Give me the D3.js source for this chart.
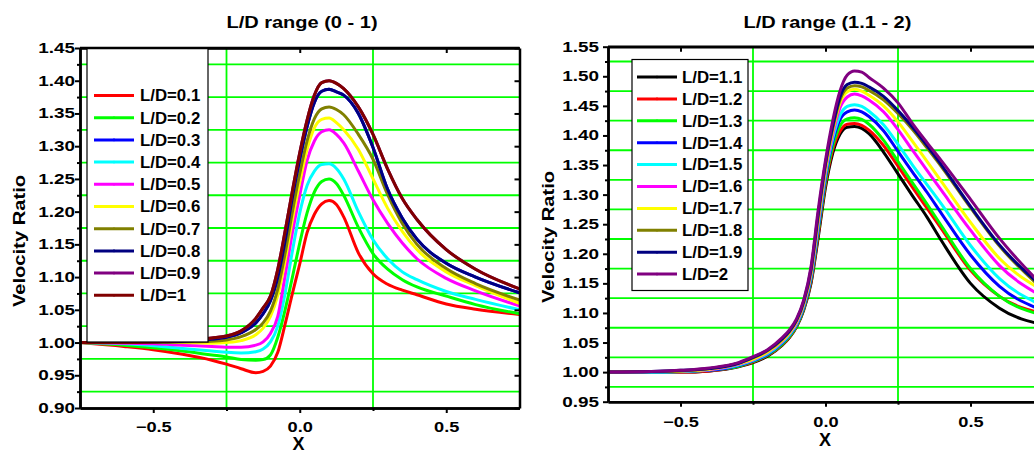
<!DOCTYPE html>
<html>
<head>
<meta charset="utf-8">
<script src="https://cdn.jsdelivr.net/npm/d3@7/dist/d3.min.js"></script>
<style>
  body { margin: 0; background: #fff; }
  text { font-family: "Liberation Sans", Arial, sans-serif; font-weight: bold; fill: #000; }
</style>
</head>
<body>
<svg id="chart"></svg>
<script>
// Canvas size
const width = 1034;
const height = 454;

// Shared x positions of the sampled points (X)
const xs = [-0.75, -0.6, -0.5, -0.4, -0.3, -0.25, -0.2, -0.15, -0.125, -0.1, -0.075, -0.05, -0.025, 0,
  0.025, 0.05, 0.075, 0.1, 0.125, 0.15, 0.2, 0.25, 0.3, 0.35, 0.4, 0.5, 0.6, 0.75];

// Tick labels
const xTicks = [-0.5, 0, 0.5];
const leftYTicks = [0.90, 0.95, 1.00, 1.05, 1.10, 1.15, 1.20, 1.25, 1.30, 1.35, 1.40, 1.45];
const rightYTicks = [0.95, 1.00, 1.05, 1.10, 1.15, 1.20, 1.25, 1.30, 1.35, 1.40, 1.45, 1.50, 1.55];

// Left chart: L/D range (0 - 1)
const leftNames = ['L/D=0.1', 'L/D=0.2', 'L/D=0.3', 'L/D=0.4', 'L/D=0.5', 'L/D=0.6', 'L/D=0.7', 'L/D=0.8', 'L/D=0.9', 'L/D=1'];
const ld01 = [1.000, 0.994, 0.989, 0.982, 0.973, 0.967, 0.960, 0.954, 0.956, 0.964, 0.985, 1.028, 1.075, 1.120,
  1.168, 1.196, 1.212, 1.217, 1.211, 1.192, 1.137, 1.105, 1.089, 1.080, 1.073, 1.059, 1.051, 1.043];
const ld02 = [1.000, 0.996, 0.992, 0.987, 0.981, 0.978, 0.974, 0.973, 0.974, 0.981, 1.008, 1.050, 1.100, 1.152,
  1.198, 1.230, 1.246, 1.250, 1.243, 1.225, 1.176, 1.136, 1.112, 1.096, 1.085, 1.071, 1.058, 1.044];
const ld03 = [1.000, 1.000, 1.001, 1.002, 1.005, 1.008, 1.015, 1.030, 1.044, 1.064, 1.100, 1.155, 1.222, 1.280,
  1.330, 1.367, 1.384, 1.387, 1.383, 1.378, 1.350, 1.298, 1.234, 1.190, 1.158, 1.121, 1.100, 1.076];
const ld04 = [1.000, 0.998, 0.995, 0.991, 0.987, 0.985, 0.984, 0.986, 0.990, 1.001, 1.025, 1.075, 1.140, 1.198,
  1.240, 1.262, 1.272, 1.273, 1.266, 1.250, 1.200, 1.157, 1.128, 1.108, 1.096, 1.078, 1.066, 1.050];
const ld05 = [1.000, 0.999, 0.998, 0.996, 0.994, 0.993, 0.993, 0.996, 1.001, 1.014, 1.040, 1.102, 1.168, 1.225,
  1.278, 1.308, 1.322, 1.325, 1.318, 1.305, 1.262, 1.218, 1.182, 1.152, 1.128, 1.098, 1.079, 1.056];
const ld06 = [1.000, 1.000, 1.000, 1.000, 0.999, 1.000, 1.003, 1.012, 1.022, 1.040, 1.072, 1.125, 1.188, 1.245,
  1.295, 1.328, 1.341, 1.343, 1.336, 1.325, 1.295, 1.250, 1.205, 1.170, 1.142, 1.108, 1.087, 1.060];
const ld07 = [1.000, 1.000, 1.000, 1.001, 1.002, 1.004, 1.009, 1.020, 1.030, 1.048, 1.082, 1.136, 1.200, 1.258,
  1.308, 1.342, 1.357, 1.360, 1.356, 1.348, 1.318, 1.280, 1.226, 1.182, 1.150, 1.113, 1.090, 1.065];
const ld08 = [1.000, 1.000, 1.001, 1.002, 1.005, 1.008, 1.015, 1.030, 1.044, 1.064, 1.100, 1.155, 1.222, 1.280,
  1.330, 1.367, 1.384, 1.387, 1.383, 1.378, 1.350, 1.298, 1.234, 1.190, 1.158, 1.121, 1.100, 1.076];
const ld09 = [1.000, 1.000, 1.001, 1.003, 1.007, 1.010, 1.018, 1.037, 1.053, 1.071, 1.112, 1.170, 1.232, 1.290,
  1.340, 1.378, 1.397, 1.400, 1.396, 1.388, 1.360, 1.318, 1.265, 1.220, 1.188, 1.142, 1.112, 1.082];
const ld10 = [1.000, 1.000, 1.001, 1.003, 1.007, 1.010, 1.018, 1.037, 1.053, 1.071, 1.112, 1.170, 1.232, 1.290,
  1.340, 1.378, 1.397, 1.400, 1.396, 1.388, 1.360, 1.318, 1.265, 1.220, 1.188, 1.142, 1.112, 1.082];
const leftColors = ['#ff0000', '#00ff00', '#0000ff', '#00ffff', '#ff00ff', '#ffff00', '#808000', '#000080', '#800080', '#800000'];

// Right chart: L/D range (1.1 - 2)
const rightNames = ['L/D=1.1', 'L/D=1.2', 'L/D=1.3', 'L/D=1.4', 'L/D=1.5', 'L/D=1.6', 'L/D=1.7', 'L/D=1.8', 'L/D=1.9', 'L/D=2'];
const ld11 = [1.000, 1.000, 1.000, 1.002, 1.009, 1.016, 1.027, 1.045, 1.058, 1.076, 1.105, 1.150, 1.228, 1.312,
  1.370, 1.402, 1.414, 1.415, 1.412, 1.403, 1.372, 1.335, 1.298, 1.262, 1.222, 1.150, 1.108, 1.080];
const ld12 = [1.000, 1.000, 1.000, 1.002, 1.010, 1.017, 1.028, 1.046, 1.059, 1.077, 1.107, 1.153, 1.233, 1.318,
  1.376, 1.407, 1.419, 1.420, 1.417, 1.409, 1.383, 1.348, 1.312, 1.277, 1.242, 1.172, 1.128, 1.099];
const ld13 = [1.000, 1.000, 1.001, 1.003, 1.010, 1.018, 1.029, 1.047, 1.060, 1.078, 1.108, 1.156, 1.238, 1.323,
  1.382, 1.416, 1.428, 1.430, 1.427, 1.419, 1.392, 1.356, 1.320, 1.284, 1.247, 1.175, 1.128, 1.096];
const ld14 = [1.000, 1.000, 1.001, 1.003, 1.011, 1.019, 1.030, 1.049, 1.062, 1.080, 1.110, 1.159, 1.243, 1.329,
  1.390, 1.427, 1.440, 1.443, 1.440, 1.432, 1.408, 1.373, 1.338, 1.304, 1.268, 1.198, 1.145, 1.104];
const ld15 = [1.000, 1.000, 1.001, 1.004, 1.012, 1.020, 1.031, 1.050, 1.063, 1.081, 1.112, 1.162, 1.248, 1.334,
  1.395, 1.434, 1.449, 1.452, 1.449, 1.441, 1.418, 1.385, 1.350, 1.317, 1.284, 1.214, 1.158, 1.112];
const ld16 = [1.000, 1.001, 1.002, 1.004, 1.013, 1.021, 1.033, 1.052, 1.065, 1.083, 1.114, 1.165, 1.253, 1.339,
  1.402, 1.447, 1.465, 1.470, 1.467, 1.460, 1.440, 1.410, 1.375, 1.341, 1.307, 1.240, 1.180, 1.127];
const ld17 = [1.000, 1.001, 1.002, 1.005, 1.014, 1.022, 1.034, 1.053, 1.066, 1.085, 1.116, 1.168, 1.258, 1.344,
  1.408, 1.455, 1.474, 1.478, 1.475, 1.468, 1.450, 1.423, 1.390, 1.356, 1.322, 1.253, 1.192, 1.138];
const ld18 = [1.000, 1.001, 1.002, 1.006, 1.015, 1.024, 1.036, 1.055, 1.068, 1.087, 1.118, 1.171, 1.263, 1.349,
  1.412, 1.460, 1.480, 1.484, 1.482, 1.476, 1.460, 1.437, 1.410, 1.379, 1.347, 1.278, 1.213, 1.140];
const ld19 = [1.000, 1.001, 1.003, 1.006, 1.015, 1.025, 1.037, 1.056, 1.069, 1.088, 1.120, 1.174, 1.268, 1.353,
  1.416, 1.465, 1.486, 1.490, 1.488, 1.482, 1.466, 1.442, 1.414, 1.383, 1.350, 1.280, 1.215, 1.143];
const ld20 = [1.000, 1.001, 1.003, 1.007, 1.016, 1.026, 1.038, 1.058, 1.071, 1.090, 1.122, 1.178, 1.275, 1.358,
  1.425, 1.475, 1.502, 1.509, 1.507, 1.498, 1.480, 1.455, 1.420, 1.388, 1.357, 1.292, 1.226, 1.145];
const rightColors = ['#000000', '#ff0000', '#00ff00', '#0000ff', '#00ffff', '#ff00ff', '#ffff00', '#808000', '#000080', '#800080'];

const svg = d3.select('#chart')
  .attr('width', width)
  .attr('height', height);

// Stretch text horizontally (original export uses wide glyphs)
function stretch(sel, f) {
  sel.each(function () {
    const w = this.getComputedTextLength();
    d3.select(this).attr('textLength', w * f).attr('lengthAdjust', 'spacingAndGlyphs');
  });
}

function drawPanel(p) {
  const x = d3.scaleLinear().domain([-0.75, 0.75]).range([p.left, p.right]);
  const y = d3.scaleLinear().domain(p.yDomain).range([p.bottom, p.top]);
  const g = svg.append('g');

  // Title
  g.append('text')
    .attr('x', p.titleX).attr('y', 28)
    .attr('text-anchor', 'middle')
    .style('font-size', '16px')
    .text(p.title)
    .call(stretch, 1.25);

  // Grid (at the minor tick positions)
  const yMinor = p.yTicks.slice(0, -1).map(v => v + 0.025);
  const xMinor = [-0.25, 0.25];
  g.selectAll('.hgrid').data(yMinor).enter().append('line')
    .attr('x1', p.left).attr('x2', p.right)
    .attr('y1', d => y(d)).attr('y2', d => y(d))
    .attr('stroke', '#00ff00').attr('stroke-width', 1.8);
  g.selectAll('.vgrid').data(xMinor).enter().append('line')
    .attr('x1', d => x(d)).attr('x2', d => x(d))
    .attr('y1', p.top).attr('y2', p.bottom)
    .attr('stroke', '#00ff00').attr('stroke-width', 1.8);

  // Curves
  const clipId = 'clip' + p.id;
  svg.append('defs').append('clipPath').attr('id', clipId)
    .append('rect')
    .attr('x', p.left).attr('y', p.top)
    .attr('width', p.right - p.left).attr('height', p.bottom - p.top);

  const line = d3.line()
    .x((d, i) => x(xs[i]))
    .y(d => y(d))
    .curve(d3.curveMonotoneX);

  g.append('g').attr('clip-path', `url(#${clipId})`)
    .selectAll('path').data(p.series).enter().append('path')
    .attr('d', d => line(d))
    .attr('fill', 'none')
    .attr('stroke', (d, i) => p.colors[i])
    .attr('stroke-width', 3);

  // Axes
  const axisStyle = a => {
    a.select('.domain').attr('stroke', '#000').attr('stroke-width', 2.5);
    a.selectAll('.tick line').attr('stroke', '#000').attr('stroke-width', 2);
  };

  const bottom = g.append('g').attr('transform', `translate(0,${p.bottom})`)
    .call(d3.axisBottom(x).tickValues(xTicks).tickSize(5).tickSizeOuter(0).tickFormat(d3.format('.1f')))
    .call(axisStyle);
  bottom.selectAll('text').attr('y', p.xLabelOffset).attr('dy', null)
    .style('font-size', '14px').call(stretch, 1.3);
  g.append('g').attr('transform', `translate(0,${p.bottom})`)
    .call(d3.axisBottom(x).tickValues(xMinor).tickSize(3).tickSizeOuter(0).tickFormat(''))
    .call(axisStyle);

  g.append('g').attr('transform', `translate(0,${p.top})`)
    .call(d3.axisTop(x).tickValues(xTicks).tickSize(-5).tickSizeOuter(0).tickFormat(''))
    .call(axisStyle);

  const left = g.append('g').attr('transform', `translate(${p.left},0)`)
    .call(d3.axisLeft(y).tickValues(p.yTicks).tickSize(5).tickSizeOuter(0).tickFormat(d3.format('.2f')))
    .call(axisStyle);
  left.selectAll('text').attr('x', p.yLabelOffset)
    .style('font-size', '14px').call(stretch, 1.35);
  g.append('g').attr('transform', `translate(${p.left},0)`)
    .call(d3.axisLeft(y).tickValues(yMinor).tickSize(3).tickSizeOuter(0).tickFormat(''))
    .call(axisStyle);

  g.append('g').attr('transform', `translate(${p.right},0)`)
    .call(d3.axisRight(y).tickValues(p.yTicks).tickSize(-5).tickSizeOuter(0).tickFormat(''))
    .call(axisStyle);

  // Axis titles
  g.append('text')
    .attr('transform', `translate(${p.yTitleX},${p.yTitleY}) rotate(-90)`)
    .attr('text-anchor', 'middle')
    .style('font-size', '16px')
    .text('Velocity Ratio')
    .call(stretch, 1.26);
  g.append('text')
    .attr('x', p.xTitleX).attr('y', p.xTitleY)
    .attr('text-anchor', 'middle')
    .style('font-size', '18px')
    .text('X');

  // Legend
  const lg = g.append('g');
  lg.append('rect')
    .attr('x', p.legend.x).attr('y', p.legend.y)
    .attr('width', p.legend.w).attr('height', p.legend.h)
    .attr('fill', '#fff').attr('stroke', '#000').attr('stroke-width', 1.2);
  const item = lg.selectAll('.item').data(p.names).enter().append('g')
    .attr('transform', (d, i) => `translate(0,${p.legend.row0 + i * p.legend.step})`);
  item.append('line')
    .attr('x1', p.legend.lx0).attr('x2', p.legend.lx1)
    .attr('stroke', (d, i) => p.colors[i]).attr('stroke-width', 3);
  item.append('circle')
    .attr('cx', (p.legend.lx0 + p.legend.lx1) / 2).attr('r', 1.3)
    .attr('fill', (d, i) => p.colors[i]);
  item.append('text')
    .attr('x', p.legend.tx).attr('y', 5.8)
    .style('font-size', '16px')
    .text(d => d)
    .call(stretch, 1.05);

  // Top frame line drawn last so the legend box sits below it
  g.append('line').attr('x1', p.left).attr('x2', p.right).attr('y1', p.top).attr('y2', p.top)
    .attr('stroke', '#000').attr('stroke-width', 2.5);
}

drawPanel({
  id: 'L', left: 80, right: 519.5, top: 48, bottom: 408, yDomain: [0.90, 1.45],
  yTicks: leftYTicks, series: [ld01, ld02, ld03, ld04, ld05, ld06, ld07, ld08, ld09, ld10],
  colors: leftColors, names: leftNames, title: 'L/D range (0 - 1)', titleX: 302,
  xLabelOffset: 24, yLabelOffset: -5,
  yTitleX: 25, yTitleY: 241, xTitleX: 298.5, xTitleY: 450,
  legend: { x: 87, y: 48, w: 121, h: 294, row0: 95.5, step: 22.2, lx0: 94, lx1: 134, tx: 140 }
});

drawPanel({
  id: 'R', left: 608, right: 1043, top: 46.7, bottom: 401.7, yDomain: [0.95, 1.55],
  yTicks: rightYTicks, series: [ld11, ld12, ld13, ld14, ld15, ld16, ld17, ld18, ld19, ld20],
  colors: rightColors, names: rightNames, title: 'L/D range (1.1 - 2)', titleX: 827.5,
  xLabelOffset: 25, yLabelOffset: -9,
  yTitleX: 554, yTitleY: 237, xTitleX: 825, xTitleY: 446,
  legend: { x: 632, y: 59.5, w: 116, h: 231, row0: 77, step: 21.9, lx0: 637, lx1: 677, tx: 682 }
});
</script>
</body>
</html>
